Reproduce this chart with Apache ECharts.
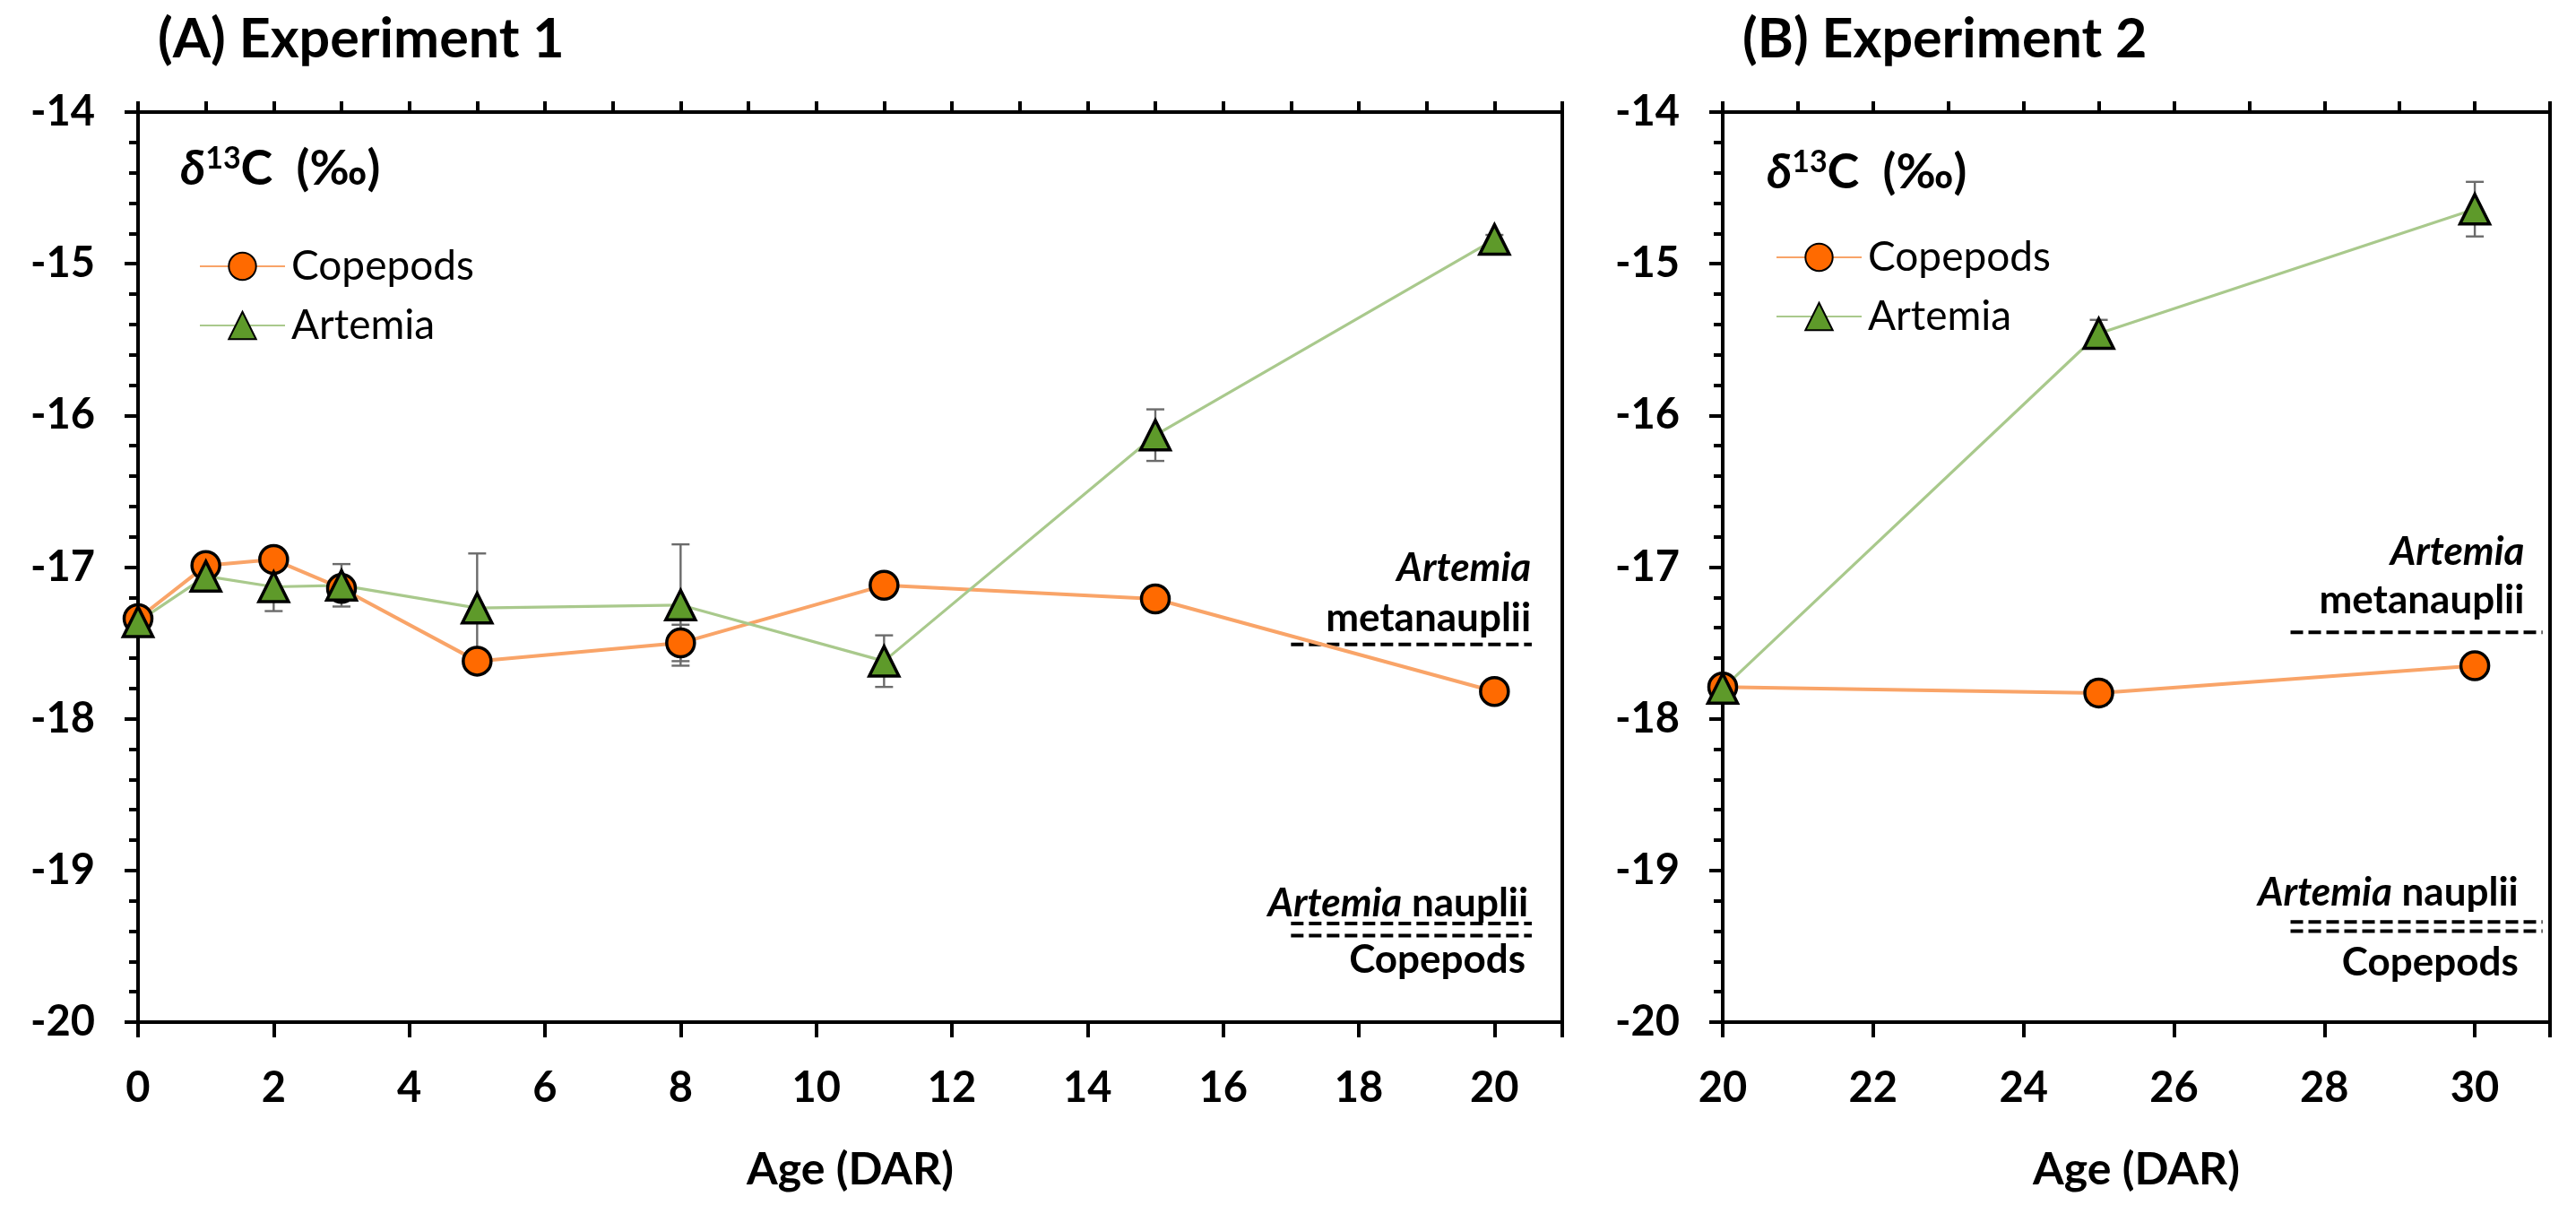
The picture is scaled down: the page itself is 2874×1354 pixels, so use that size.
<!DOCTYPE html>
<html>
<head>
<meta charset="utf-8">
<script src="https://cdn.jsdelivr.net/npm/echarts@6/dist/echarts.min.js"></script>
<style>
html,body{margin:0;padding:0;background:#fff;}
#chart{width:2874px;height:1354px;}
</style>
</head>
<body>
<div id="chart"></div>
<script>
// ---- Experiment 1 ----
const ageA = [0, 1, 2, 3, 5, 8, 11, 15, 20];
const copepodsA = [-17.34, -16.99, -16.95, -17.14, -17.62, -17.50, -17.12, -17.21, -17.82];
const copepodsAErr = [0.03, 0.04, 0.03, 0.05, 0.04, 0.12, 0.03, 0.03, 0.03];
const artemiaA = [-17.36, -17.06, -17.13, -17.12, -17.27, -17.25, -17.62, -16.13, -14.84];
const artemiaAErr = [0.02, 0.03, 0.16, 0.14, 0.36, 0.40, 0.17, 0.17, 0.03];

// ---- Experiment 2 ----
const ageB = [20, 25, 30];
const copepodsB = [-17.79, -17.83, -17.65];
const copepodsBErr = [0.03, 0.08, 0.03];
const artemiaB = [-17.80, -15.46, -14.64];
const artemiaBErr = [0.03, 0.09, 0.18];

// reference (diet) values: [xFrom, xTo, value]
const refLinesA = [[17.0, 20.55, -17.51], [17.0, 20.55, -19.35], [17.0, 20.55, -19.43]];
const refLinesB = [[27.55, 30.9, -17.43], [27.55, 30.9, -19.34], [27.55, 30.9, -19.40]];
// annotation anchors: [text key, x (right end), y]
const refLabelsA = [['art', 20.54, -17.01], ['meta', 20.54, -17.34], ['naup', 20.5, -19.22], ['cop', 20.46, -19.59]];
const refLabelsB = [['art', 30.66, -16.90], ['meta', 30.66, -17.22], ['naup', 30.58, -19.15], ['cop', 30.58, -19.61]];

const yTicks = { min: -20, max: -14, interval: 1 };
const xTicksA = { min: 0, max: 21 };
const xTicksB = { min: 20, max: 31 };

const FONT = 'Lato, "Open Sans", sans-serif';
const ORANGE = '#FF6A00', ORANGE_LINE = '#F9A468';
const GREEN = '#5E9A2A', GREEN_LINE = '#A9C98C';

const labelTexts = {
  art: '{i|Artemia}',
  meta: '{n|metanauplii}',
  naup: '{i|Artemia}{n| nauplii}',
  cop: '{n|Copepods}'
};

function errRender(params, api) {
  const x = api.value(0), y = api.value(1), e = api.value(2);
  const top = api.coord([x, y + e]);
  const bot = api.coord([x, y - e]);
  const cw = 10;
  const st = { stroke: '#6b6b6b', lineWidth: 2.4 };
  return {
    type: 'group',
    children: [
      { type: 'line', shape: { x1: top[0], y1: top[1], x2: bot[0], y2: bot[1] }, style: st },
      { type: 'line', shape: { x1: top[0] - cw, y1: top[1], x2: top[0] + cw, y2: top[1] }, style: st },
      { type: 'line', shape: { x1: bot[0] - cw, y1: bot[1], x2: bot[0] + cw, y2: bot[1] }, style: st }
    ]
  };
}

function xAxisMain(gi, ext) {
  return {
    type: 'value', gridIndex: gi, min: ext.min, max: ext.max, interval: 2,
    name: 'Age (DAR)', nameLocation: 'middle', nameGap: 140,
    nameTextStyle: { fontFamily: FONT, fontWeight: 'bold', fontSize: 50, color: '#000' },
    axisLine: { show: true, onZero: false, lineStyle: { color: '#000', width: 4 } },
    axisTick: { show: true, length: 17, inside: false, lineStyle: { color: '#000', width: 4 } },
    axisLabel: {
      margin: 50, fontFamily: FONT, fontWeight: 'bold', fontSize: 47, color: '#000',
      formatter: v => (v % 2 === 0 ? String(v) : '')
    },
    splitLine: { show: false }
  };
}
function xAxisMinor(gi, ext) {
  return {
    type: 'value', gridIndex: gi, min: ext.min, max: ext.max, interval: 1,
    axisLine: { show: false },
    axisTick: { show: true, length: 12, lineStyle: { color: '#000', width: 4 } },
    axisLabel: { show: false },
    splitLine: { show: false }
  };
}
function yAxis(gi) {
  return {
    type: 'value', gridIndex: gi, min: yTicks.min, max: yTicks.max, interval: yTicks.interval,
    axisLine: { show: true, onZero: false, lineStyle: { color: '#000', width: 4 } },
    axisTick: { show: true, length: 15, lineStyle: { color: '#000', width: 4 } },
    minorTick: { show: true, splitNumber: 5, length: 10, lineStyle: { color: '#000', width: 4 } },
    axisLabel: { margin: 48, fontFamily: FONT, fontWeight: 'bold', fontSize: 47, color: '#000' },
    splitLine: { show: false }
  };
}

function lineSeries(name, xs, ys, gi, kind) {
  const isCop = kind === 'cop';
  return {
    name, type: 'line', xAxisIndex: gi * 2, yAxisIndex: gi, z: 3,
    data: xs.map((x, i) => [x, ys[i]]),
    symbol: isCop ? 'circle' : 'triangle',
    symbolSize: isCop ? 31 : 33,
    itemStyle: { color: isCop ? ORANGE : GREEN, borderColor: '#000', borderWidth: 3.5 },
    lineStyle: { color: isCop ? ORANGE_LINE : GREEN_LINE, width: isCop ? 4 : 3.2 },
    emphasis: { disabled: true }, animation: false
  };
}
function errSeries(xs, ys, es, gi) {
  return {
    type: 'custom', xAxisIndex: gi * 2, yAxisIndex: gi, z: 2, silent: true,
    renderItem: errRender, encode: { x: 0, y: 1 },
    data: xs.map((x, i) => [x, ys[i], es[i]]), animation: false
  };
}
function refSeries(lines, gi) {
  return lines.map(l => ({
    type: 'line', xAxisIndex: gi * 2, yAxisIndex: gi, z: 2, silent: true,
    data: [[l[0], l[2]], [l[1], l[2]]], symbol: 'none',
    lineStyle: { color: '#000', width: 4, type: [14, 6] }, animation: false
  }));
}
function labelSeries(labels, gi) {
  return {
    type: 'scatter', xAxisIndex: gi * 2, yAxisIndex: gi, z: 4, silent: true,
    symbolSize: 0, animation: false,
    itemStyle: { opacity: 1 },
    data: labels.map(l => ({ value: [l[1], l[2]], key: l[0] })),
    label: {
      show: true, position: 'left', distance: 0, opacity: 1,
      formatter: p => labelTexts[p.data.key],
      rich: {
        i: { fontFamily: FONT, fontStyle: 'italic', fontWeight: 'bold', fontSize: 44, color: '#000' },
        n: { fontFamily: FONT, fontWeight: 'bold', fontSize: 44, color: '#000' }
      }
    }
  };
}

const deltaRich = {
  d: { fontFamily: FONT, fontStyle: 'italic', fontWeight: 'bold', fontSize: 54, fill: '#000' },
  s: { fontFamily: FONT, fontWeight: 'bold', fontSize: 34, fill: '#000', padding: [0, 0, 24, 0] },
  c: { fontFamily: FONT, fontWeight: 'bold', fontSize: 54, fill: '#000' }
};

const legendCommon = {
  orient: 'vertical', itemWidth: 95, itemHeight: 38, itemGap: 20,
  data: ['Copepods', 'Artemia'], selectedMode: false,
  textStyle: { fontFamily: FONT, fontSize: 46, color: '#000', padding: [0, 0, 0, 2] }
};

const option = {
  backgroundColor: '#fff',
  animation: false,
  grid: [
    { left: 154, top: 125, width: 1589, height: 1015, show: true, borderColor: '#000', borderWidth: 4, backgroundColor: 'transparent' },
    { left: 1922, top: 125, width: 923, height: 1015, show: true, borderColor: '#000', borderWidth: 4, backgroundColor: 'transparent' }
  ],
  xAxis: [xAxisMain(0, xTicksA), xAxisMinor(0, xTicksA), xAxisMain(1, xTicksB), xAxisMinor(1, xTicksB)],
  yAxis: [yAxis(0), yAxis(1)],
  legend: [
    Object.assign({ left: 217, top: 269 }, legendCommon),
    Object.assign({ left: 1976, top: 259 }, legendCommon)
  ],
  graphic: [
    { type: 'text', left: 176, top: 14, style: { text: '(A) Experiment 1', font: 'bold 61px ' + FONT, fill: '#000' } },
    { type: 'text', left: 1944, top: 14, style: { text: '(B) Experiment 2', font: 'bold 61px ' + FONT, fill: '#000' } },
    { type: 'text', left: 201, top: 160, style: { text: '{d|δ}{s|13}{c|C  (‰)}', rich: deltaRich } },
    { type: 'text', left: 1971, top: 164, style: { text: '{d|δ}{s|13}{c|C  (‰)}', rich: deltaRich } }
  ],
  series: [
    errSeries(ageA, copepodsA, copepodsAErr, 0),
    errSeries(ageA, artemiaA, artemiaAErr, 0),
    lineSeries('Copepods', ageA, copepodsA, 0, 'cop'),
    lineSeries('Artemia', ageA, artemiaA, 0, 'art'),
    ...refSeries(refLinesA, 0),
    labelSeries(refLabelsA, 0),
    errSeries(ageB, copepodsB, copepodsBErr, 1),
    errSeries(ageB, artemiaB, artemiaBErr, 1),
    lineSeries('Copepods', ageB, copepodsB, 1, 'cop'),
    lineSeries('Artemia', ageB, artemiaB, 1, 'art'),
    ...refSeries(refLinesB, 1),
    labelSeries(refLabelsB, 1)
  ]
};

const chart = echarts.init(document.getElementById('chart'), null, { renderer: 'canvas' });
chart.setOption(option);
</script>
</body>
</html>
